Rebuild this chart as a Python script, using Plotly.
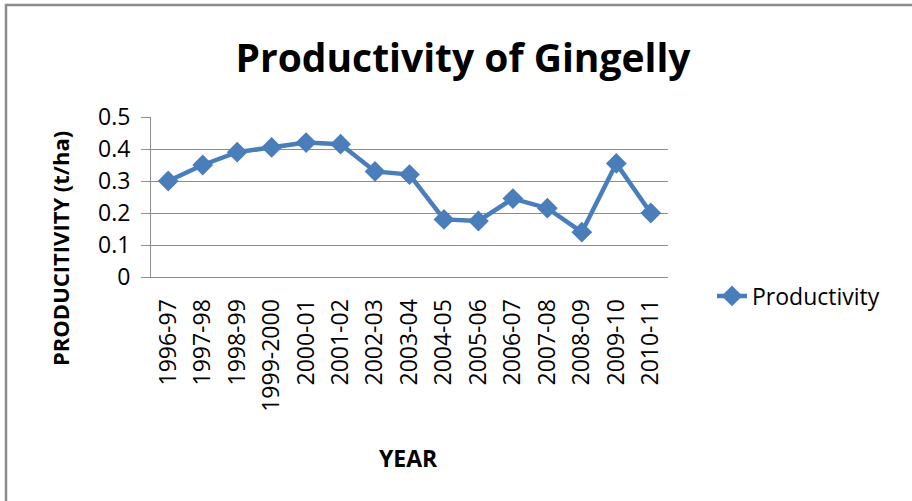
import plotly.graph_objects as go

# Crop seasons and productivity (t/ha)
years = ["1996-97", "1997-98", "1998-99", "1999-2000", "2000-01", "2001-02",
         "2002-03", "2003-04", "2004-05", "2005-06", "2006-07", "2007-08",
         "2008-09", "2009-10", "2010-11"]
productivity = [0.30, 0.35, 0.39, 0.405, 0.42, 0.415, 0.33, 0.32,
                0.18, 0.175, 0.245, 0.215, 0.14, 0.355, 0.20]
y_ticks = [0, 0.1, 0.2, 0.3, 0.4, 0.5]
y_tick_text = ["0", "0.1", "0.2", "0.3", "0.4", "0.5"]

W, H = 912, 501
L, R, T, B = 151, 244, 117, 224
PW, PH = W - L - R, H - T - B


def px(x):
    return (x - L) / PW


def py(y):
    return (H - B - y) / PH


FONT = "Open Sans"
GRID = "#8c8c8c"
BLUE = "#4a7ebb"

fig = go.Figure()
fig.add_trace(go.Scatter(
    x=years, y=productivity, name="Productivity", mode="lines+markers",
    line=dict(color=BLUE, width=4.5),
    marker=dict(symbol="diamond", size=16, color=BLUE),
))

fig.update_layout(
    width=W, height=H,
    margin=dict(l=L, r=R, t=T, b=B),
    paper_bgcolor="white", plot_bgcolor="white",
    font=dict(family=FONT, color="#000000"),
    showlegend=True,
    legend=dict(x=px(712), y=py(296), xanchor="left", yanchor="middle",
                font=dict(size=23, family=FONT), bgcolor="rgba(0,0,0,0)"),
    title=dict(text="<b>Productivity of Gingelly</b>", xref="paper",
               x=px(463), xanchor="center", yref="container",
               y=1 - 58 / H, yanchor="middle",
               font=dict(size=39, family=FONT, color="#000000")),
    xaxis=dict(type="category", range=[-0.5, len(years) - 0.5],
               tickangle=-90, tickfont=dict(size=23, family=FONT),
               showgrid=False, showline=True, linecolor=GRID, linewidth=1,
               ticks="", ticklabelstandoff=12, zeroline=False),
    yaxis=dict(range=[0, 0.5], tickvals=y_ticks, ticktext=y_tick_text,
               tickfont=dict(size=23, family=FONT),
               showgrid=True, gridcolor=GRID, gridwidth=1,
               showline=True, linecolor=GRID, linewidth=1,
               ticks="outside", ticklen=9, tickcolor=GRID,
               ticklabelstandoff=6, zeroline=False),
    annotations=[
        dict(text="<b>PRODUCITIVITY (t/ha)</b>", textangle=-90,
             xref="paper", yref="paper", x=px(60), y=py(249),
             xanchor="center", yanchor="middle", showarrow=False,
             font=dict(size=22, family=FONT)),
        dict(text="<b>YEAR</b>", xref="paper", yref="paper",
             x=px(408), y=py(458), xanchor="center", yanchor="middle",
             showarrow=False, font=dict(size=23, family=FONT)),
    ],
    shapes=[
        dict(type="path", xref="paper", yref="paper",
             path=f"M {px(6)},{py(520)} L {px(6)},{py(5)} L {px(930)},{py(5)}",
             line=dict(color=GRID, width=2.5)),
    ],
)

fig.write_html("out.html")
